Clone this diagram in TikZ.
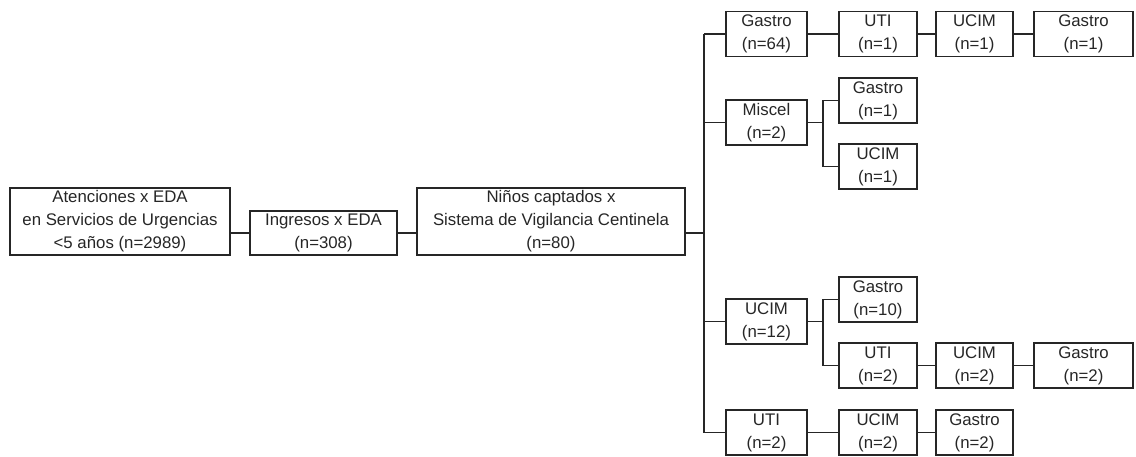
\documentclass[tikz,border=0pt]{standalone}
\usepackage{fontspec}
\setmainfont{Liberation Sans}
\usepackage{tikz}

\tikzset{
  caja/.style={draw=black!85, line width=1.4pt, align=center, inner sep=2pt,
    text=black!85, font=\fontsize{16.8}{23}\selectfont, minimum height=45},
  linea/.style={draw=black!85, line width=1.4pt}
}

\begin{document}
\begin{tikzpicture}[x=1pt,y=-1pt]
\useasboundingbox (0,0) rectangle (1136,457);

% tronco principal
\node [caja, minimum width=220, minimum height=67] (aten) at (120,221.5) {Atenciones x EDA\\en Servicios de Urgencias\\<5 años (n=2989)};
\node [caja, minimum width=147, minimum height=44] (ingr) at (323.5,233) {Ingresos x EDA\\(n=308)};
\node [caja, minimum width=268, minimum height=67] (ninos) at (551,221.5) {Niños captados x\\Sistema de Vigilancia Centinela\\(n=80)};

% primera columna
\node [caja, minimum width=81] (gas64) at (766.5,34) {Gastro\\(n=64)};
\node [caja, minimum width=81] (misc) at (766.5,122.5) {Miscel\\(n=2)};
\node [caja, minimum width=81] (ucim12) at (766.5,321.5) {UCIM\\(n=12)};
\node [caja, minimum width=81] (uti2a) at (766.5,432.5) {UTI\\(n=2)};

% segunda columna
\node [caja, minimum width=78] (uti1) at (878,34) {UTI\\(n=1)};
\node [caja, minimum width=78] (gas1a) at (878,100.5) {Gastro\\(n=1)};
\node [caja, minimum width=78] (ucim1a) at (878,166.5) {UCIM\\(n=1)};
\node [caja, minimum width=78] (gas10) at (878,299.5) {Gastro\\(n=10)};
\node [caja, minimum width=78] (uti2b) at (878,365.5) {UTI\\(n=2)};
\node [caja, minimum width=78] (ucim2a) at (878,432.5) {UCIM\\(n=2)};

% tercera y cuarta columna
\node [caja, minimum width=77] (ucim1b) at (974.5,34) {UCIM\\(n=1)};
\node [caja, minimum width=77] (ucim2b) at (974.5,365.5) {UCIM\\(n=2)};
\node [caja, minimum width=77] (gas2a) at (974.5,432.5) {Gastro\\(n=2)};
\node [caja, minimum width=99] (gas1b) at (1083.5,34) {Gastro\\(n=1)};
\node [caja, minimum width=99] (gas2b) at (1083.5,365.5) {Gastro\\(n=2)};

\coordinate (t) at (704,233);
\coordinate (bm) at (823,122.5);
\coordinate (bu) at (823,321.5);

\draw [linea] (aten.east |- ingr) -- (ingr.west);
\draw [linea] (ingr.east) -- (ninos.west |- ingr);
\draw [linea] (ninos.east |- t) -- (t);
\draw [linea] (t |- gas64) -- (t |- uti2a);

\foreach \n in {gas64,misc,ucim12,uti2a}
    \draw [linea] (t |- \n) -- (\n.west);

\draw [linea] (misc.east) -- (bm);
\draw [linea] (gas1a.west) -| (bm) |- (ucim1a.west);
\draw [linea] (ucim12.east) -- (bu);
\draw [linea] (gas10.west) -| (bu) |- (uti2b.west);

\draw [linea] (gas64) -- (uti1) -- (ucim1b) -- (gas1b);
\draw [linea] (uti2b) -- (ucim2b) -- (gas2b);
\draw [linea] (uti2a) -- (ucim2a) -- (gas2a);

\end{tikzpicture}
\end{document}
